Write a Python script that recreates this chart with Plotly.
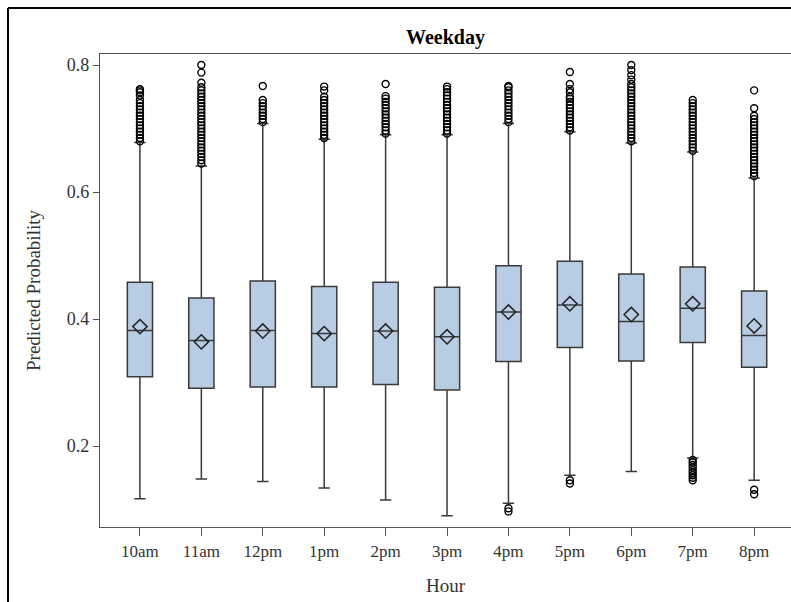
import plotly.graph_objects as go

hours = ["10am", "11am", "12pm", "1pm", "2pm", "3pm", "4pm", "5pm", "6pm", "7pm", "8pm"]
q1 = [0.309, 0.291, 0.293, 0.293, 0.297, 0.288, 0.333, 0.355, 0.334, 0.363, 0.324]
median = [0.382, 0.366, 0.382, 0.377, 0.381, 0.372, 0.411, 0.422, 0.396, 0.417, 0.374]
q3 = [0.458, 0.433, 0.460, 0.451, 0.458, 0.450, 0.484, 0.491, 0.471, 0.482, 0.444]
lower_whisker = [0.117, 0.148, 0.144, 0.134, 0.115, 0.090, 0.110, 0.154, 0.160, 0.181, 0.146]
upper_whisker = [0.678, 0.641, 0.708, 0.683, 0.690, 0.690, 0.708, 0.695, 0.677, 0.663, 0.622]
mean = [0.388, 0.364, 0.381, 0.377, 0.381, 0.372, 0.411, 0.424, 0.407, 0.424, 0.389]

outliers = {
    "10am": [0.680, 0.685, 0.690, 0.695, 0.700, 0.705, 0.710, 0.715, 0.720, 0.725, 0.730,
             0.735, 0.740, 0.745, 0.752, 0.757, 0.760, 0.762],
    "11am": [0.645, 0.650, 0.655, 0.660, 0.665, 0.670, 0.675, 0.680, 0.685, 0.690, 0.695,
             0.700, 0.705, 0.710, 0.715, 0.720, 0.725, 0.730, 0.735, 0.740, 0.745, 0.750,
             0.755, 0.760, 0.765, 0.772, 0.788, 0.800],
    "12pm": [0.710, 0.715, 0.720, 0.725, 0.730, 0.735, 0.740, 0.745, 0.767],
    "1pm": [0.685, 0.690, 0.695, 0.700, 0.705, 0.710, 0.715, 0.720, 0.725, 0.730, 0.735,
            0.740, 0.745, 0.750, 0.760, 0.766],
    "2pm": [0.692, 0.697, 0.702, 0.707, 0.712, 0.717, 0.722, 0.727, 0.732, 0.737, 0.742,
            0.747, 0.751, 0.770],
    "3pm": [0.692, 0.697, 0.702, 0.707, 0.712, 0.717, 0.722, 0.727, 0.732, 0.737, 0.742,
            0.747, 0.752, 0.757, 0.762, 0.766],
    "4pm": [0.710, 0.715, 0.720, 0.725, 0.730, 0.735, 0.740, 0.745, 0.750, 0.755, 0.760,
            0.765, 0.767, 0.102, 0.097],
    "5pm": [0.697, 0.702, 0.707, 0.712, 0.717, 0.722, 0.727, 0.732, 0.737, 0.742, 0.747,
            0.750, 0.757, 0.762, 0.770, 0.789, 0.146, 0.141],
    "6pm": [0.680, 0.685, 0.690, 0.695, 0.700, 0.705, 0.710, 0.715, 0.720, 0.725, 0.730,
            0.735, 0.740, 0.745, 0.750, 0.755, 0.760, 0.765, 0.770, 0.777, 0.784, 0.792, 0.800],
    "7pm": [0.665, 0.670, 0.675, 0.680, 0.685, 0.690, 0.695, 0.700, 0.705, 0.710, 0.715,
            0.720, 0.725, 0.730, 0.735, 0.740, 0.745, 0.178, 0.174, 0.170, 0.166, 0.162,
            0.158, 0.154, 0.150, 0.146],
    "8pm": [0.625, 0.630, 0.635, 0.640, 0.645, 0.650, 0.655, 0.660, 0.665, 0.670, 0.675,
            0.680, 0.685, 0.690, 0.695, 0.700, 0.705, 0.710, 0.715, 0.720, 0.732, 0.760,
            0.131, 0.124],
}

y_ticks = [0.2, 0.4, 0.6, 0.8]
title_text = "Weekday"
x_title = "Hour"
y_title = "Predicted Probability"

FONT = "Liberation Serif, Times New Roman, serif"

fig = go.Figure()
fig.add_trace(go.Box(
    x=hours, q1=q1, median=median, q3=q3,
    lowerfence=lower_whisker, upperfence=upper_whisker,
    boxpoints=False, width=0.41, whiskerwidth=0.45,
    fillcolor="#b8cce4", line=dict(color="#3a3a3a", width=1.5),
    showlegend=False, hoverinfo="skip",
))

ox, oy = [], []
for h in hours:
    for v in outliers[h]:
        ox.append(h)
        oy.append(v)
fig.add_trace(go.Scatter(
    x=ox, y=oy, mode="markers",
    marker=dict(symbol="circle-open", size=7, color="black", line=dict(width=1.4, color="black")),
    showlegend=False, hoverinfo="skip",
))
fig.add_trace(go.Scatter(
    x=hours, y=mean, mode="markers",
    marker=dict(symbol="diamond-open", size=11, color="#222", line=dict(width=1.5, color="#222")),
    showlegend=False, hoverinfo="skip",
))

# plot area: x 100..791, y 54..527 in pixels
L, T, W, H = 100, 54, 691, 473
def px(x):
    return (x - L) / W
def py(y):
    return (T + H - y) / H

shapes = [
    dict(type="line", xref="paper", yref="paper", x0=px(8), x1=px(791), y0=py(8), y1=py(8),
         line=dict(color="black", width=2)),
    dict(type="line", xref="paper", yref="paper", x0=px(8), x1=px(8), y0=py(8), y1=py(602),
         line=dict(color="black", width=2)),
]

fig.update_layout(
    width=791, height=602,
    margin=dict(l=L, r=0, t=T, b=602 - T - H),
    paper_bgcolor="white", plot_bgcolor="white",
    font=dict(family=FONT, size=17, color="#333"),
    shapes=shapes,
    annotations=[dict(text="<b>" + title_text + "</b>", xref="paper", yref="paper",
                      x=0.5, y=py(37), xanchor="center", yanchor="middle",
                      showarrow=False, font=dict(family=FONT, size=20, color="black"))],
    xaxis=dict(
        type="category", range=[-0.65, 10.6], showgrid=False, zeroline=False,
        showline=True, linecolor="#555", linewidth=1.3, mirror=True,
        ticks="outside", ticklen=8, tickcolor="#555", tickwidth=1.3,
        tickfont=dict(family=FONT, size=17, color="#333"),
        title=dict(text=x_title, font=dict(family=FONT, size=19, color="#333"), standoff=19),
    ),
    yaxis=dict(
        range=[0.8 - (527 - 65) / 635, 0.8 + (65 - 54) / 635],
        tickvals=y_ticks, ticktext=[str(v) for v in y_ticks],
        showgrid=False, zeroline=False,
        showline=True, linecolor="#555", linewidth=1.3, mirror=False,
        ticks="outside", ticklen=6, tickcolor="#555", tickwidth=1.3,
        tickfont=dict(family=FONT, size=18, color="#333"),
        title=dict(text=y_title, font=dict(family=FONT, size=19, color="#333"), standoff=21),
    ),
)

fig.write_html("out.html", config={"displayModeBar": False},
               post_script="document.body.style.margin='0';")
